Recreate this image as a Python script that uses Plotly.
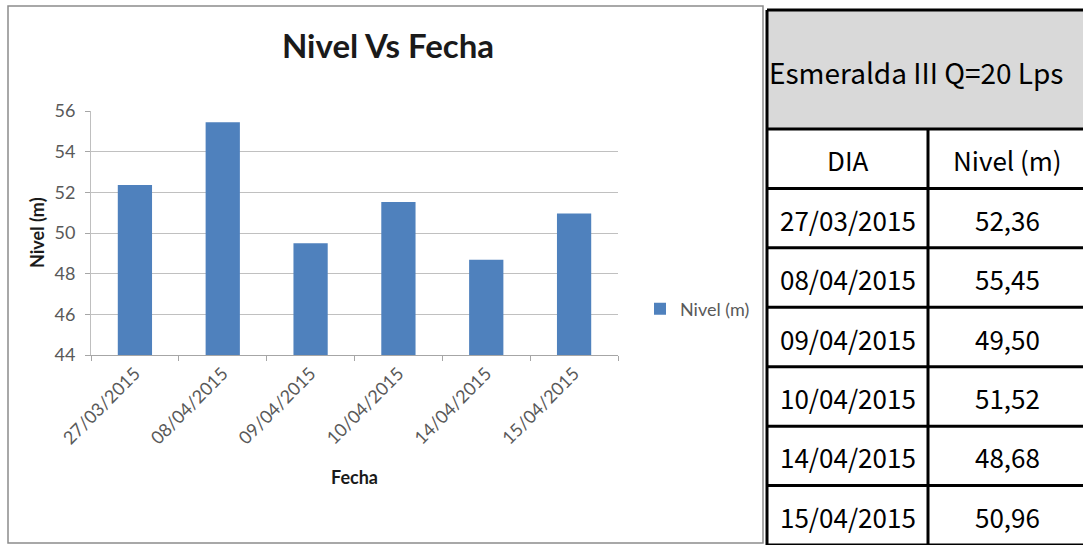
import plotly.graph_objects as go

W, H = 1083, 545

# ---- data ----
fechas = ["27/03/2015", "08/04/2015", "09/04/2015", "10/04/2015", "14/04/2015", "15/04/2015"]
nivel = [52.36, 55.45, 49.50, 51.52, 48.68, 50.96]
y_ticks = [44, 46, 48, 50, 52, 54, 56]
chart_title = "Nivel Vs Fecha"
x_title = "Fecha"
y_title = "Nivel (m)"
series_name = "Nivel (m)"
table_title = "Esmeralda III Q=20 Lps"
table_cols = ["DIA", "Nivel (m)"]

BAR = "#4f81bd"
CHART_FAMILY = "Lato, Open Sans, sans-serif"
TICK_FONT = dict(family=CHART_FAMILY, size=18, color="#595959")
TABLE_FONT = "Noto Sans CJK SC, Liberation Sans Narrow, Roboto, sans-serif"


def px(x):
    return x / W


def py(y):
    return 1 - y / H


# plot area in pixels
PL, PR, PT, PB = 91, 618, 111, 355

fig = go.Figure()
fig.add_trace(go.Bar(x=fechas, y=nivel, name=series_name, marker_color=BAR,
                     showlegend=True))

fig.update_layout(
    template="none",
    width=W, height=H,
    margin=dict(l=0, r=0, t=0, b=0, autoexpand=False),
    paper_bgcolor="white", plot_bgcolor="white",
    bargap=0.61,
    showlegend=True,
    title=dict(text=f"<b>{chart_title}</b>", x=px(388), y=py(46), xanchor="center",
               yanchor="middle", xref="paper", yref="paper",
               font=dict(family=CHART_FAMILY, size=33, color="#1a1a1a")),
    legend=dict(x=px(640), y=py(309), xanchor="left", yanchor="middle",
                font=dict(family=CHART_FAMILY, size=18, color="#595959"),
                bgcolor="rgba(0,0,0,0)", itemwidth=30),
    xaxis=dict(domain=[px(PL), px(PR)], type="category", tickangle=-45, automargin=False,
               tickfont=TICK_FONT, ticks="outside", tickson="boundaries", ticklen=5,
               tickcolor="#a6a6a6", showline=True, linecolor="#a6a6a6", linewidth=1,
               showgrid=False, zeroline=False),
    yaxis=dict(domain=[py(PB), py(PT)], range=[44, 56], tickvals=y_ticks, automargin=False,
               tickfont=TICK_FONT, ticks="outside", ticklen=5, tickcolor="#a6a6a6",
               showline=True, linecolor="#bfbfbf", linewidth=1,
               showgrid=True, gridcolor="#c0c0c0", gridwidth=1, zeroline=False,
               ticklabelstandoff=6),
)

annotations = [
    dict(text=f"<b>{x_title}</b>", x=px((PL + PR) / 2), y=py(477), xref="paper", yref="paper",
         xanchor="center", yanchor="middle", showarrow=False,
         font=dict(family=CHART_FAMILY, size=18, color="#1a1a1a")),
    dict(text=f"<b>{y_title}</b>", x=px(37), y=py((PT + PB) / 2), xref="paper", yref="paper",
         xanchor="center", yanchor="middle", showarrow=False, textangle=-90,
         font=dict(family=CHART_FAMILY, size=18, color="#1a1a1a")),
]

shapes = [
    # chart outer border
    dict(type="rect", xref="paper", yref="paper", x0=px(8), x1=px(763), y0=py(6), y1=py(543),
         line=dict(color="#8c8c8c", width=1.5), fillcolor="rgba(0,0,0,0)", layer="below"),
]

# ---- table (drawn with shapes + text) ----
TL, TM, TR = 767, 928, 1083
T_TOP, HEAD_B = 10, 129
ROW_H = (545 - HEAD_B) / (len(fechas) + 1)
LW = 3

shapes.append(dict(type="rect", xref="paper", yref="paper", x0=px(TL), x1=px(TR + 2),
                   y0=py(T_TOP), y1=py(HEAD_B), fillcolor="#d9d9d9",
                   line=dict(width=0), layer="below"))
row_lines = [T_TOP, HEAD_B] + [HEAD_B + ROW_H * (i + 1) for i in range(len(fechas) + 1)]
for yl in row_lines:
    shapes.append(dict(type="line", xref="paper", yref="paper", x0=px(TL), x1=px(TR + 2),
                       y0=py(yl), y1=py(yl), line=dict(color="black", width=LW)))
shapes.append(dict(type="line", xref="paper", yref="paper", x0=px(TL), x1=px(TL),
                   y0=py(T_TOP), y1=py(547), line=dict(color="black", width=LW)))
shapes.append(dict(type="line", xref="paper", yref="paper", x0=px(TM), x1=px(TM),
                   y0=py(HEAD_B), y1=py(547), line=dict(color="black", width=LW)))

head_font = dict(family=TABLE_FONT, size=28, color="black")
tfont = dict(family=TABLE_FONT, size=26, color="black")
annotations.append(dict(text=table_title, x=px(916), y=py((T_TOP + HEAD_B) / 2 + 2),
                        xref="paper", yref="paper", xanchor="center", yanchor="middle",
                        showarrow=False, font=head_font))
rows = [table_cols] + [[f, f"{v:.2f}".replace(".", ",")] for f, v in zip(fechas, nivel)]
for i, (c1, c2) in enumerate(rows):
    yc = HEAD_B + ROW_H * (i + 0.5) + 1
    annotations.append(dict(text=c1, x=px((TL + TM) / 2), y=py(yc), xref="paper", yref="paper",
                            xanchor="center", yanchor="middle", showarrow=False, font=tfont))
    annotations.append(dict(text=c2, x=px((TM + TR) / 2 + 2), y=py(yc), xref="paper", yref="paper",
                            xanchor="center", yanchor="middle", showarrow=False, font=tfont))

fig.update_layout(annotations=annotations, shapes=shapes)
fig.write_html("out.html")
